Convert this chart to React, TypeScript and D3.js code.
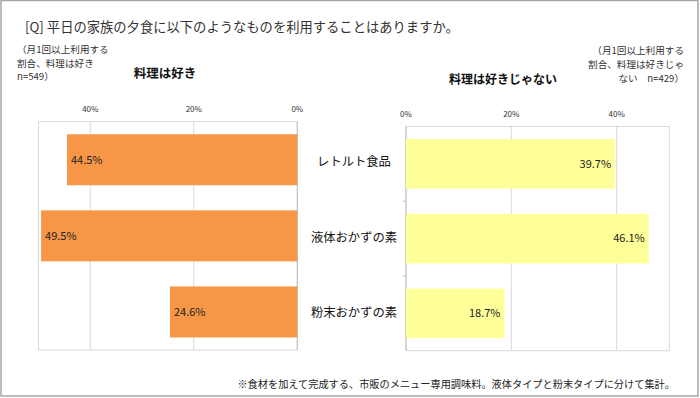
import * as d3 from "d3";

const categories = ["レトルト食品", "液体おかずの素", "粉末おかずの素"];
const likeValues = [44.5, 49.5, 24.6];
const dislikeValues = [39.7, 46.1, 18.7];
const ticks = [0, 20, 40];

const W = 700;
const H = 398;
const FONT = "'Noto Sans CJK JP', 'Noto Sans', sans-serif";
const GRID = "#d9d9d9";

export default function App() {
  // left chart (reversed axis, bars grow to the left)
  const xL = d3.scaleLinear().domain([0, 50]).range([297.3, 38.5]);
  const yL = d3.scaleBand().domain(categories).range([121.7, 350]).paddingInner(0.33).paddingOuter(0.165);
  // right chart
  const xR = d3.scaleLinear().domain([0, 50]).range([406, 669.3]);
  const yR = d3.scaleBand().domain(categories).range([126.5, 350.7]).paddingInner(0.337).paddingOuter(0.1685);

  const fmt = (v: number) => `${v.toFixed(1)}%`;

  return (
    <svg
      width={W}
      height={H}
      style={{ position: "absolute", left: 0, top: 0, background: "#fff", fontFamily: FONT }}
    >
      <rect x={1} y={0.5} width={W - 3} height={H - 2.5} fill="#fff" stroke="#a6a6a6" strokeWidth={1.5} />

      <text x={25} y={31.5} fontSize={13.3} fill="#333">
        [Q] 平日の家族の夕食に以下のようなものを利用することはありますか。
      </text>

      {/* notes */}
      <g fontSize={9.6} fill="#333">
        <text x={17} y={53}>（月1回以上利用する</text>
        <text x={17} y={66.5}>割合、料理は好き</text>
        <text x={17} y={80}>n=549）</text>
      </g>
      <g fontSize={9.6} fill="#333" textAnchor="end">
        <text x={684} y={54}>（月1回以上利用する</text>
        <text x={684} y={67.5}>割合、料理は好きじゃ</text>
        <text x={684} y={82}>ない　n=429）</text>
      </g>

      <text x={165} y={78} fontSize={12.5} fontWeight="bold" textAnchor="middle" fill="#111">
        料理は好き
      </text>
      <text x={503} y={83.5} fontSize={12} fontWeight="bold" textAnchor="middle" fill="#111">
        料理は好きじゃない
      </text>

      {/* left plot */}
      <rect x={xL(50)} y={121.7} width={xL(0) - xL(50)} height={350 - 121.7} fill="none" stroke={GRID} />
      {ticks.map((t) => (
        <g key={"l" + t}>
          <line x1={xL(t)} x2={xL(t)} y1={121.7} y2={350} stroke={t === 0 ? "#bfbfbf" : GRID} />
          <text x={xL(t)} y={112} fontSize={8} textAnchor="middle" fill="#333">
            {t}%
          </text>
        </g>
      ))}
      {categories.map((c, i) => (
        <g key={"lb" + c}>
          <rect
            x={xL(likeValues[i])}
            y={yL(c)}
            width={xL(0) - xL(likeValues[i])}
            height={yL.bandwidth()}
            fill="#f79646"
          />
          <text
            x={xL(likeValues[i]) + 4}
            y={(yL(c) as number) + yL.bandwidth() / 2}
            dy="0.35em"
            fontSize={11}
            fill="#222"
          >
            {fmt(likeValues[i])}
          </text>
        </g>
      ))}

      {/* right plot */}
      <rect x={xR(0)} y={126.5} width={xR(50) - xR(0)} height={350.7 - 126.5} fill="none" stroke={GRID} />
      {ticks.map((t) => (
        <g key={"r" + t}>
          <line x1={xR(t)} x2={xR(t)} y1={126.5} y2={350.7} stroke={t === 0 ? "#bfbfbf" : GRID} />
          <text x={xR(t)} y={117} fontSize={8} textAnchor="middle" fill="#333">
            {t}%
          </text>
        </g>
      ))}
      {[1, 2].map((k) => {
        const yy = 126.5 + (k * (350.7 - 126.5)) / categories.length;
        return <line key={"tk" + k} x1={xR(0) - 3} x2={xR(0)} y1={yy} y2={yy} stroke="#bfbfbf" />;
      })}
      {categories.map((c, i) => (
        <g key={"rb" + c}>
          <rect
            x={xR(0)}
            y={yR(c)}
            width={xR(dislikeValues[i]) - xR(0)}
            height={yR.bandwidth()}
            fill="#ffff99"
          />
          <text
            x={xR(dislikeValues[i]) - 4}
            y={(yR(c) as number) + yR.bandwidth() / 2}
            dy="0.35em"
            fontSize={11}
            textAnchor="end"
            fill="#222"
          >
            {fmt(dislikeValues[i])}
          </text>
        </g>
      ))}

      {/* category labels in the middle */}
      {categories.map((c) => (
        <text
          key={"c" + c}
          x={354}
          y={((yL(c) as number) + (yR(c) as number)) / 2 + yL.bandwidth() / 2}
          dy="0.35em"
          fontSize={12.3}
          textAnchor="middle"
          fill="#111"
        >
          {c}
        </text>
      ))}

      <text x={675} y={388} fontSize={10.2} textAnchor="end" fill="#222">
        ※食材を加えて完成する、市販のメニュー専用調味料。液体タイプと粉末タイプに分けて集計。
      </text>
    </svg>
  );
}
